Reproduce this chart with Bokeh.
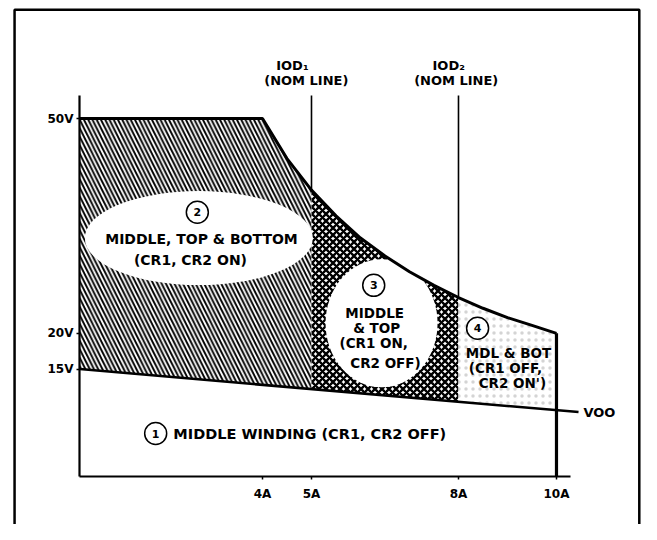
import numpy as np
from bokeh.plotting import figure
from bokeh.models import Range1d, LinearAxis, FixedTicker, BoxAnnotation, ColumnDataSource
from bokeh.core.properties import value
from bokeh.embed import file_html
from bokeh.resources import INLINE

# ---------------- data ----------------
# upper operating limit (50 V flat, then constant-power curve down to 10 A)
limit_current = [0.27, 4.0, 4.5, 5.0, 5.5, 6.0, 6.5, 7.0, 7.5, 8.0, 8.5, 9.0, 9.5, 10.0]
limit_voltage = [50.0, 50.0, 44.4, 40.0, 36.4, 33.3, 30.8, 28.6, 26.7, 25.0, 23.5, 22.2, 21.1, 20.0]
# VOO line (middle-winding output)
voo_current = [0.27, 10.45]
voo_voltage = [15.0, 9.0]
# IOD nominal lines
iod_current = [5.0, 8.0]
iod_names = ["IOD\u2081", "IOD\u2082"]
# region edges: y-axis, IOD1, IOD2, max current
region_edges = [0.27, 5.0, 8.0, 10.0]
x_ticks = [4, 5, 8, 10]
x_tick_labels = ["4A", "5A", "8A", "10A"]
y_ticks = [15, 20, 50]
y_tick_labels = ["15V", "20V", "50V"]

FONT = value("DejaVu Sans")

la = np.array(limit_current)
lv = np.array(limit_voltage)


def region(a0, a1):
    m = (la > a0) & (la < a1)
    xs = [a0] + list(la[m]) + [a1, a1, a0]
    ys = ([float(np.interp(a0, la, lv))] + list(lv[m]) +
          [float(np.interp(a1, la, lv)),
           float(np.interp(a1, voo_current, voo_voltage)),
           float(np.interp(a0, voo_current, voo_voltage))])
    return xs, ys


p = figure(width=641, height=524,
           x_range=Range1d(-1.347, 11.735), y_range=Range1d(-6.70, 66.48),
           x_axis_type=None, y_axis_type=None,
           toolbar_location=None, output_backend="svg",
           min_border=0, outline_line_color=None)

# outer frame (no bottom edge visible)
p.add_layout(BoxAnnotation(left=-1.06, right=11.69, top=65.2, bottom=-40,
                           fill_alpha=0, line_color="black", line_alpha=1.0,
                           line_width=2.5))

# region 2: middle, top & bottom (diagonal hatch)
x2, y2 = region(region_edges[0], region_edges[1])
p.patch(x2, y2, fill_color="white", line_color=None,
        hatch_pattern="\\", hatch_scale=8.5, hatch_weight=1.9, hatch_color="black")
# region 3: middle & top (dense cross hatch)
x3, y3 = region(region_edges[1], region_edges[2])
p.patch(x3, y3, fill_color="white", line_color=None,
        hatch_pattern="x", hatch_scale=7, hatch_weight=2.4, hatch_color="black")
# region 4: mdl & bot (light stipple)
x4, y4 = region(region_edges[2], region_edges[3])
p.patch(x4, y4, fill_color="white", line_color=None,
        hatch_pattern=".", hatch_scale=7, hatch_weight=1, hatch_color="#666666",
        hatch_alpha=0.28)

# white clearings behind the region labels
p.ellipse(x=[2.7, 6.43], y=[33.3, 21.4], width=[228, 112], height=[94, 128],
          width_units="screen", height_units="screen",
          fill_color="white", line_color=None)

# boundary lines
p.line(limit_current, limit_voltage, line_color="black", line_width=3)
p.line(voo_current, voo_voltage, line_color="black", line_width=2.5)
iod_top = [float(np.interp(a, la, lv)) for a in iod_current]
p.segment(x0=iod_current, y0=[53.2] * 2, x1=iod_current, y1=iod_top,
          line_color="black", line_width=1.6)
p.segment(x0=[region_edges[3]], y0=[0], x1=[region_edges[3]],
          y1=[float(np.interp(region_edges[3], la, lv))],
          line_color="black", line_width=3.2)

# axes at fixed positions
xaxis = LinearAxis(fixed_location=0, bounds=(0.265, 10.29),
                   ticker=FixedTicker(ticks=x_ticks),
                   major_label_overrides=dict(zip(x_ticks, x_tick_labels)))
yaxis = LinearAxis(fixed_location=0.265, bounds=(0, 53.2),
                   ticker=FixedTicker(ticks=y_ticks),
                   major_label_overrides=dict(zip(y_ticks, y_tick_labels)))
for ax in (xaxis, yaxis):
    ax.axis_line_color = "black"
    ax.axis_line_width = 2.2
    ax.major_tick_line_color = "black"
    ax.major_tick_line_width = 1.5
    ax.major_tick_in = 0
    ax.major_tick_out = 3
    ax.minor_tick_line_color = None
    ax.major_label_text_font = "DejaVu Sans"
    ax.major_label_text_font_style = "bold"
    ax.major_label_text_font_size = "12px"
    ax.major_label_text_color = "black"
xaxis.major_label_standoff = 7
yaxis.major_label_standoff = 3
p.add_layout(xaxis, "below")
p.add_layout(yaxis, "left")

# circled region numbers
circ = ColumnDataSource(dict(x=[1.82, 2.67, 6.27, 8.39], y=[6.0, 36.9, 26.7, 20.7],
                             t=["1", "2", "3", "4"]))
p.scatter("x", "y", source=circ, marker="circle", size=22,
          fill_color="white", line_color="black", line_width=1.5)
p.text("x", "y", text="t", source=circ, text_font=FONT, text_font_style="bold",
       text_font_size="11px", text_align="center", text_baseline="middle")

# region labels
big = ColumnDataSource(dict(x=[2.755, 2.53], y=[33.2, 30.2],
                            t=["MIDDLE, TOP & BOTTOM", "(CR1, CR2 ON)"]))
p.text("x", "y", text="t", source=big, text_font=FONT, text_font_style="bold",
       text_font_size="14px", text_align="center", text_baseline="middle")
small = ColumnDataSource(dict(
    x=[6.29, 6.33, 6.27, 6.51, 9.02, 8.96, 9.1],
    y=[22.9, 20.8, 18.6, 15.9, 17.2, 15.1, 13.0],
    t=["MIDDLE", "& TOP", "(CR1 ON,", "CR2 OFF)", "MDL & BOT", "(CR1 OFF,", "CR2 ON')"]))
p.text("x", "y", text="t", source=small, text_font=FONT, text_font_style="bold",
       text_font_size="13.5px", text_align="center", text_baseline="middle")

p.text(x=[2.18], y=[6.0], text=["MIDDLE WINDING (CR1, CR2 OFF)"], text_font=FONT,
       text_font_style="bold", text_font_size="14.5px", text_align="left",
       text_baseline="middle")
p.text(x=[10.55], y=[8.9], text=["VOO"], text_font=FONT, text_font_style="bold",
       text_font_size="13px", text_align="left", text_baseline="middle")

# IOD nominal line captions
p.text(x=[4.61, 7.8], y=[57.4, 57.4], text=iod_names, text_font=FONT,
       text_font_style="bold", text_font_size="13px", text_align="center",
       text_baseline="middle")
p.text(x=[4.94, 8.0], y=[55.3, 55.3], text=["(NOM  LINE)", "(NOM  LINE)"],
       text_font=FONT, text_font_style="bold", text_font_size="13px",
       text_align="center", text_baseline="middle")

open("out.html", "w").write(file_html(p, INLINE))
